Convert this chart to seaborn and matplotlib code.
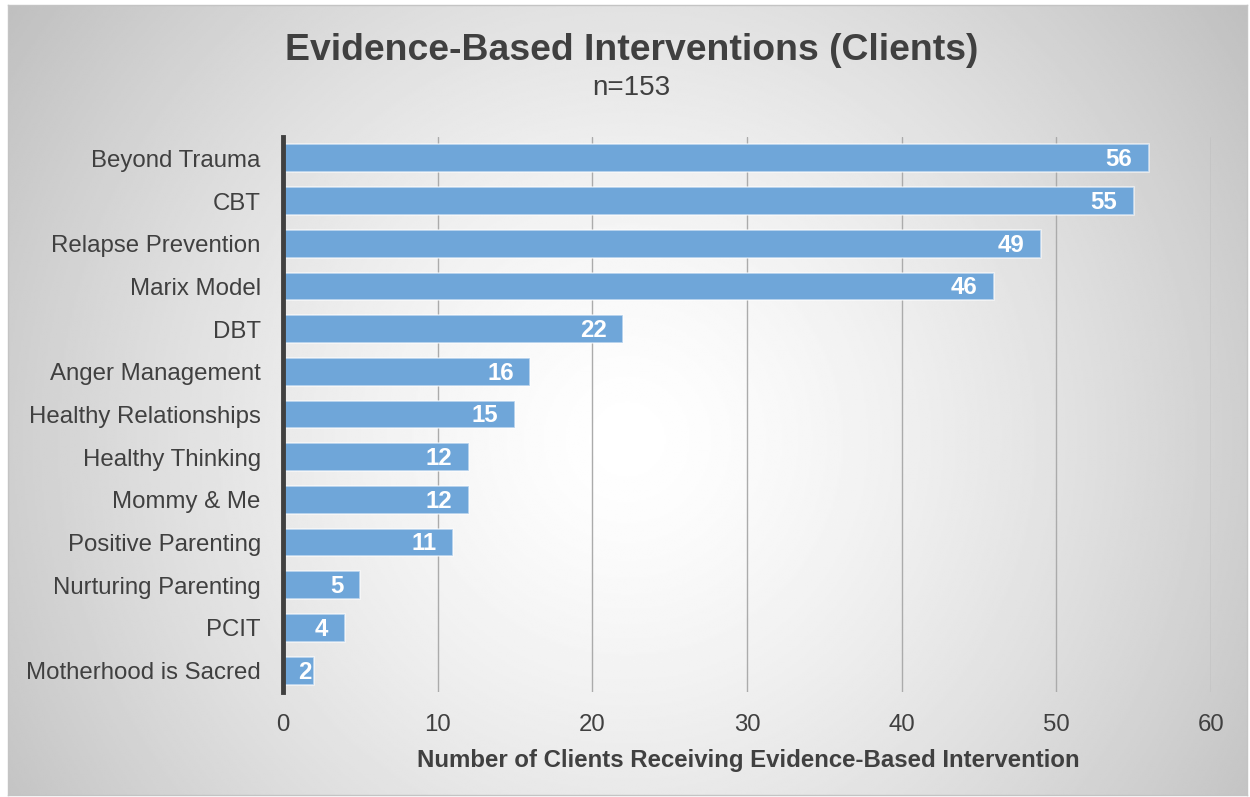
import numpy as np
import pandas as pd
import matplotlib
matplotlib.use("Agg")
import matplotlib.pyplot as plt
import seaborn as sns

# Data
interventions = [
    "Beyond Trauma", "CBT", "Relapse Prevention", "Marix Model", "DBT",
    "Anger Management", "Healthy Relationships", "Healthy Thinking",
    "Mommy & Me", "Positive Parenting", "Nurturing Parenting", "PCIT",
    "Motherhood is Sacred",
]
clients = [56, 55, 49, 46, 22, 16, 15, 12, 12, 11, 5, 4, 2]
x_ticks = [0, 10, 20, 30, 40, 50, 60]

title = "Evidence-Based Interventions (Clients)"
subtitle = "n=153"
x_label = "Number of Clients Receiving Evidence-Based Intervention"

sns.set_theme(style="white")
plt.rcParams["font.family"] = ["Liberation Sans", "DejaVu Sans"]

TEXT = "#404040"
BAR = "#6fa6d9"

W, H = 1250, 797
fig = plt.figure(figsize=(W / 100, H / 100), dpi=100)
fig.patch.set_facecolor("white")

# Radial gradient panel behind the chart
px0, py0, px1, py1 = 8, 5, 1247, 795
bg = fig.add_axes([px0 / W, 1 - py1 / H, (px1 - px0) / W, (py1 - py0) / H], zorder=0)
ny, nx = 400, 630
yy, xx = np.mgrid[0:1:ny * 1j, 0:1:nx * 1j]
pw, ph = px1 - px0, py1 - py0
cx, cy = 0.5, 0.55
r = np.hypot((xx - cx) * pw, (yy - cy) * ph)
r = r / r.max()
shade = 1.0 - 0.25 * r ** 1.4
bg.imshow(shade, cmap="gray", vmin=0, vmax=1, aspect="auto",
          extent=[0, 1, 0, 1], origin="upper", interpolation="bilinear")
bg.set_xticks([])
bg.set_yticks([])
for s in bg.spines.values():
    s.set_color("#c4c4c4")
    s.set_linewidth(1)

# Bar chart
ax = fig.add_axes([283 / W, 1 - 692 / H, 928 / W, 555 / H], zorder=1)
ax.set_facecolor("none")
df = pd.DataFrame({"Intervention": interventions, "Clients": clients})
sns.barplot(data=df, x="Clients", y="Intervention", color=BAR, saturation=1,
            width=0.65, edgecolor=(1, 1, 1, 0.6), linewidth=1.2, ax=ax)

ax.set_xlim(0, 60)
ax.set_xticks(x_ticks)
ax.set_xticklabels([str(t) for t in x_ticks])
ax.set_ylim(len(interventions) - 0.5, -0.5)
ax.grid(axis="x", color="#ababab", linewidth=1)
ax.grid(axis="y", visible=False)
ax.set_axisbelow(True)
for side in ["top", "right", "bottom"]:
    ax.spines[side].set_visible(False)
ax.spines["left"].set_color(TEXT)
ax.spines["left"].set_linewidth(3.5)
ax.tick_params(axis="both", length=0, labelsize=17.3, labelcolor=TEXT)
ax.tick_params(axis="y", pad=16)
ax.tick_params(axis="x", pad=15.5)
ax.set_xlabel("")
ax.set_ylabel("")

# Value labels inside the bar ends
for i, v in enumerate(clients):
    off = -12 if v >= 3 else -2
    ax.annotate(str(v), xy=(v, i), xytext=(off, -1), textcoords="offset points",
                ha="right", va="center", color="white", fontweight="bold",
                fontsize=17.3)

fig.text(632 / W, 1 - 50 / H, title, ha="center", va="center",
         fontsize=26.9, fontweight="bold", color=TEXT)
fig.text(631 / W, 1 - 88 / H, subtitle, ha="center", va="center",
         fontsize=20, color=TEXT)
fig.text(748 / W, 1 - 760 / H, x_label, ha="center", va="center",
         fontsize=17.3, fontweight="bold", color=TEXT)

fig.savefig("out.png", dpi=100, facecolor=fig.get_facecolor())
